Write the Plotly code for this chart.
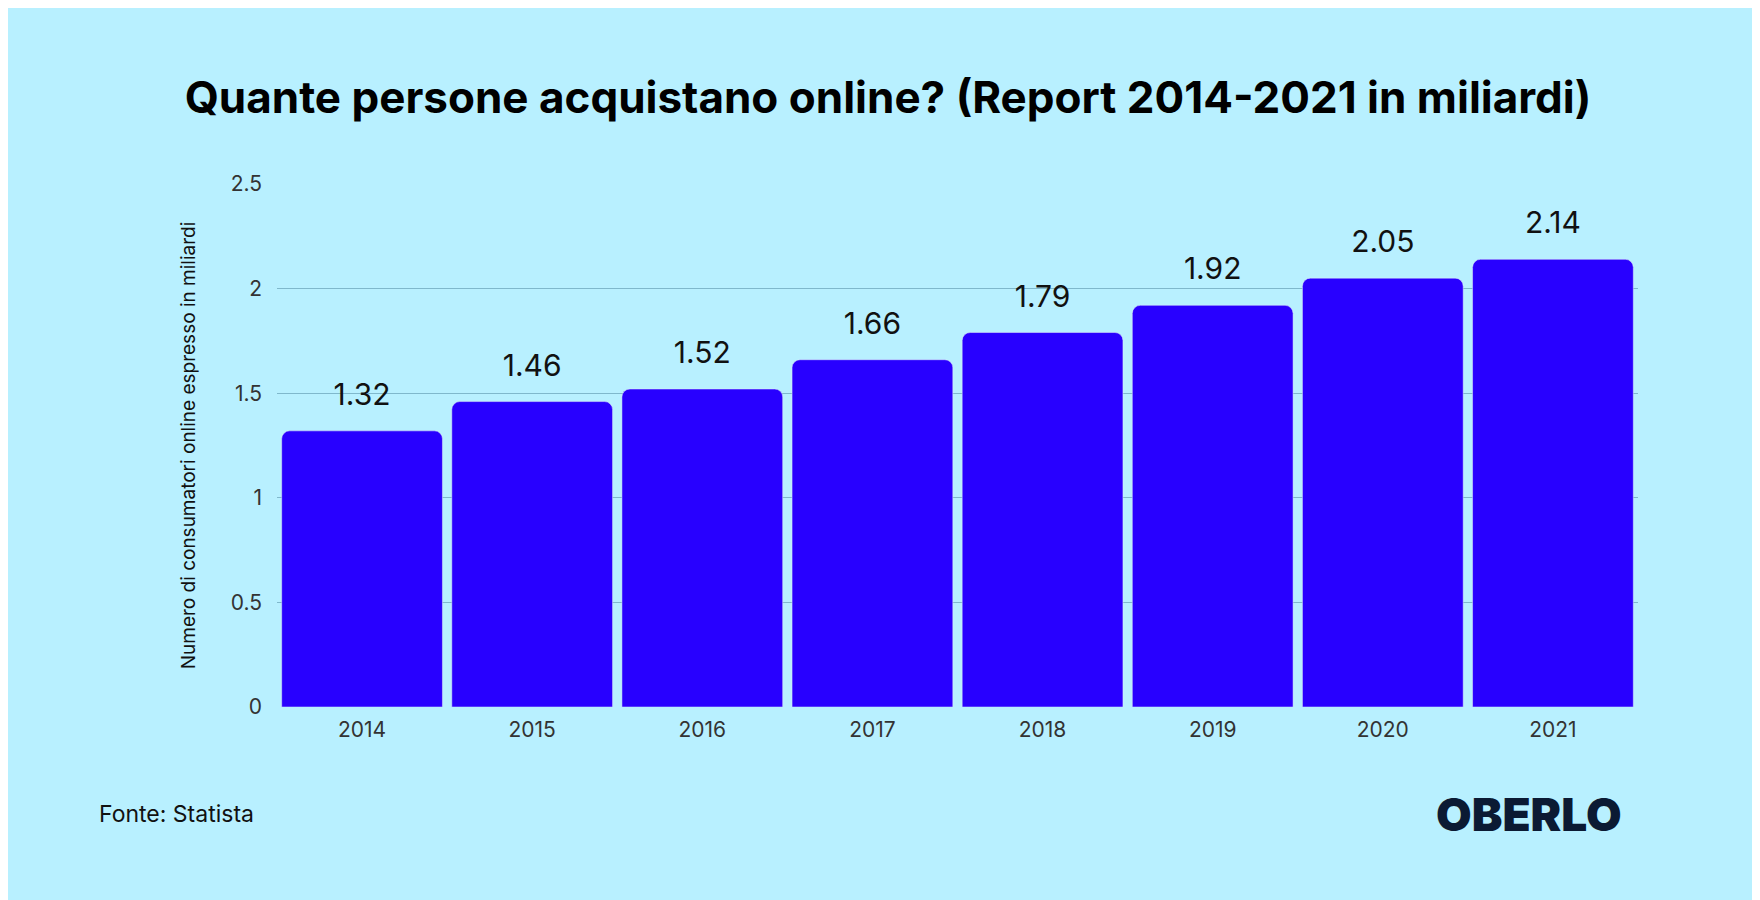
import plotly.graph_objects as go

years = ["2014", "2015", "2016", "2017", "2018", "2019", "2020", "2021"]
buyers = [1.32, 1.46, 1.52, 1.66, 1.79, 1.92, 2.05, 2.14]
labels = ["1.32", "1.46", "1.52", "1.66", "1.79", "1.92", "2.05", "2.14"]

BG = "#b8f0ff"
BAR = "#2800ff"

fig = go.Figure()
fig.add_trace(go.Bar(
    x=years, y=buyers,
    marker=dict(color=BAR, cornerradius=8),
))
# value labels sit a bit above each bar
fig.add_trace(go.Scatter(
    x=years, y=[v + 0.16 for v in buyers], text=labels, mode="text",
    textfont=dict(size=30, color="#111111", family="Inter"), cliponaxis=False,
))

fig.update_layout(
    width=1760, height=900,
    paper_bgcolor=BG, plot_bgcolor=BG,
    margin=dict(l=269, r=130, t=176, b=201),
    bargap=0.055, showlegend=False,
    font=dict(family="Inter", color="#111111"),
    title=dict(text="<b>Quante persone acquistano online? (Report 2014-2021 in miliardi)</b>",
               x=0.5, xanchor="center", y=0.9, yanchor="middle",
               font=dict(size=44, color="#000000")),
    yaxis=dict(range=[0, 2.5], dtick=0.5, showgrid=True, gridcolor="#7fb8cc",
               gridwidth=1, zeroline=False, ticks="", tickfont=dict(size=21, color="#333333"),
               ticklabelstandoff=14,
               title=dict(text="Numero di consumatori online espresso in miliardi",
                          font=dict(size=19, color="#111111"), standoff=30)),
    xaxis=dict(tickfont=dict(size=21, color="#333333"), ticks="", showline=False,
               ticklabelstandoff=8),
)

fig.add_annotation(text="Fonte: Statista", xref="paper", yref="paper",
                   x=-0.132, y=-0.205, xanchor="left", yanchor="middle", showarrow=False,
                   font=dict(size=23, color="#111111"))
fig.add_annotation(text="OBERLO", xref="paper", yref="paper",
                   x=0.99, y=-0.205, xanchor="right", yanchor="middle", showarrow=False,
                   font=dict(size=46, color="#0b1a33", family="Inter", weight=900))

fig.write_html("out.html")
